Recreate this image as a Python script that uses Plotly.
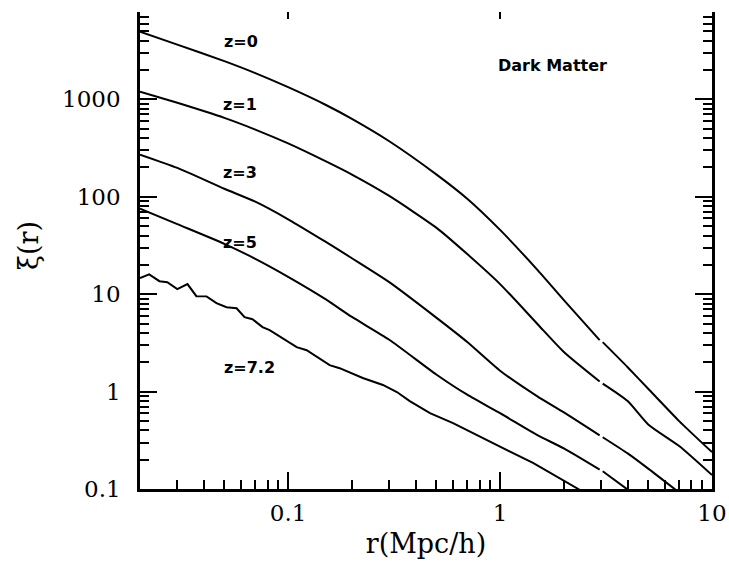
import math
import plotly.graph_objects as go

# r in Mpc/h; the None at r=3 keeps the small break seen in the curves
r_grid = [0.02, 0.03, 0.05, 0.07, 0.1, 0.15, 0.2, 0.3, 0.5, 0.7, 1, 1.5, 2, 2.95, 3.0, 3.05, 4, 5, 7, 10]

xi_z0 = [4960, 3650, 2470, 1862, 1334, 881, 631, 372, 170, 95.5, 45.7, 17.8, 8.71, 3.38, None, 3.22, 1.78, 1.07, 0.498, 0.239]
xi_z1 = [1202, 923, 646, 490, 353, 232, 169, 102, 48.2, 25.8, 12.7, 4.95, 2.55, 1.27, None, 1.21, 0.80, 0.46, 0.276, 0.139]
xi_z3 = [271, 198, 121, 89.1, 58.8, 34.6, 23.4, 13.3, 5.75, 3.23, 1.64, 0.893, 0.611, 0.355, None, 0.340, 0.232, 0.162, 0.092, None]
xi_z5 = [75.7, 52.4, 32.9, 23.1, 15.1, 8.91, 5.84, 3.41, 1.50, 0.929, 0.601, 0.357, 0.261, 0.158, None, 0.152, 0.0986, None, None, None]

# z=7.2 is noisy at small r, so it gets its own sampling
r_z72 = [0.02, 0.0221, 0.0247, 0.0269, 0.030, 0.0335, 0.0369, 0.0412, 0.0459, 0.0512, 0.0571,
         0.0623, 0.0679, 0.0757, 0.0818, 0.0942, 0.1097, 0.1223, 0.157, 0.175, 0.225, 0.280,
         0.326, 0.375, 0.467, 0.600, 1.0, 1.43, 2.34, 2.5]
xi_z72 = [14.6, 16.0, 13.6, 13.3, 11.3, 12.7, 9.54, 9.5, 8.09, 7.36, 7.18,
          5.81, 5.54, 4.59, 4.27, 3.54, 2.86, 2.66, 1.87, 1.74, 1.38, 1.17,
          0.99, 0.800, 0.602, 0.475, 0.270, 0.185, 0.100, 0.090]

labels = ["z=0", "z=1", "z=3", "z=5", "z=7.2"]
label_pos = [(0.177, 0.918), (0.175, 0.789), (0.175, 0.649), (0.175, 0.507), (0.192, 0.249)]

serif = "DejaVu Serif"
fig = go.Figure()
for xi in [xi_z0, xi_z1, xi_z3, xi_z5]:
    fig.add_trace(go.Scatter(x=r_grid, y=xi, mode="lines", line=dict(color="black", width=2, shape="spline", smoothing=0.6),
                             connectgaps=False, showlegend=False))
fig.add_trace(go.Scatter(x=r_z72, y=xi_z72, mode="lines", line=dict(color="black", width=2), showlegend=False))

for txt, (px, py) in zip(labels, label_pos):
    fig.add_annotation(x=px, y=py, xref="paper", yref="paper", xanchor="center", yanchor="middle",
                       text="<b>%s</b>" % txt, showarrow=False,
                       font=dict(family="DejaVu Sans", size=16, color="black"))
fig.add_annotation(x=0.722, y=0.869, xref="paper", yref="paper", xanchor="center", yanchor="middle",
                   text="<b>Dark Matter</b>", showarrow=False,
                   font=dict(family="DejaVu Sans", size=16, color="black"))

minor_x = [k * 10 ** e for e in range(-2, 1) for k in range(2, 10)]
minor_y = [k * 10 ** e for e in range(-1, 4) for k in range(2, 10)]
axis_common = dict(type="log", ticks="inside", ticklen=17, tickwidth=2, tickcolor="black",
                   showline=True, linewidth=2.5, linecolor="black", mirror="ticks",
                   showgrid=False, zeroline=False, automargin=False,
                   tickfont=dict(family=serif, size=23, color="black"))
fig.update_xaxes(range=[math.log10(0.02), 1], tickvals=[0.1, 1, 10], ticktext=["0.1", "1", "10"],
                 minor=dict(tickvals=minor_x, ticks="inside", ticklen=9, tickwidth=1.5, tickcolor="black", showgrid=False),
                 ticklabelstandoff=2,
                 title=dict(text="r(Mpc/h)", font=dict(family=serif, size=27, color="black"), standoff=9),
                 **axis_common)
fig.update_yaxes(range=[-1, 4], tickvals=[0.1, 1, 10, 100, 1000, 10000],
                 ticktext=["0.1", "1", "10", "100", "1000", "10<sup>4</sup>"],
                 minor=dict(tickvals=minor_y, ticks="inside", ticklen=9, tickwidth=1.5, tickcolor="black", showgrid=False),
                 ticklabelstandoff=12,
                 title=dict(text="ξ(r)", font=dict(family=serif, size=27, color="black"), standoff=16),
                 **axis_common)

# the top strip of the original figure is cut off
fig.add_shape(type="rect", xref="paper", yref="paper", x0=-0.3, x1=1.1, y0=0.9795, y1=1.05,
              fillcolor="white", line=dict(width=0), layer="above")

fig.update_layout(width=729, height=564, margin=dict(l=140, r=17, t=2, b=75),
                  paper_bgcolor="white", plot_bgcolor="white")
# drop the browser's default page margin so the figure sits at the window's corner
fig.write_html("out.html", config={"displayModeBar": False},
               post_script="document.body.style.margin='0px';")
